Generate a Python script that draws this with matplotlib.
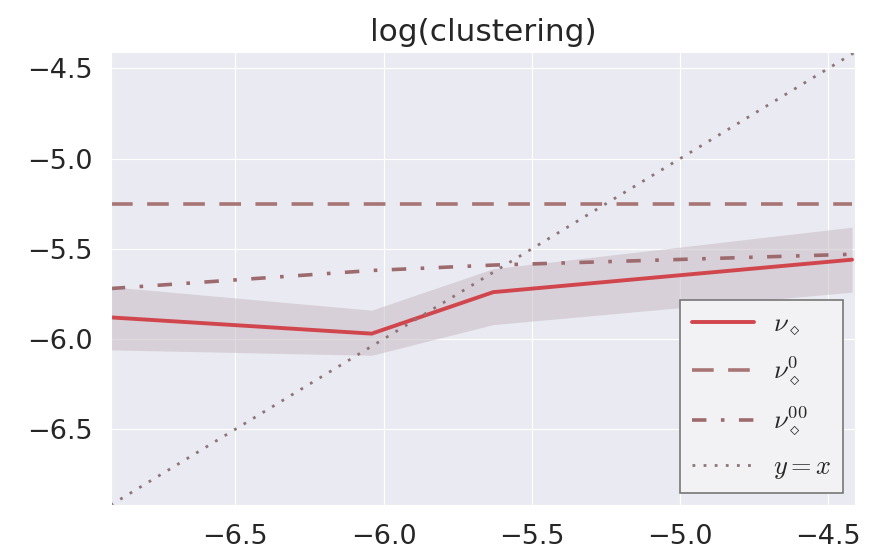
import matplotlib
matplotlib.use("Agg")
import matplotlib.pyplot as plt
import seaborn as sns
import numpy as np

sns.set_style("darkgrid")
plt.rcParams['font.family'] = ['DejaVu Sans']
plt.rcParams['mathtext.fontset'] = 'cm'

x = [-6.92, -6.04, -5.63, -4.42]
nu = [-5.88, -5.97, -5.74, -5.56]
nu_low = [-6.06, -6.09, -5.92, -5.74]
nu_high = [-5.71, -5.84, -5.61, -5.38]
nu0 = [-5.25, -5.25, -5.25, -5.25]
nu00 = [-5.72, -5.62, -5.59, -5.53]
lims = [-6.92, -4.41]
xticks = [-6.5, -6.0, -5.5, -5.0, -4.5]
yticks = [-6.5, -6.0, -5.5, -5.0, -4.5]

fig = plt.figure(figsize=(8.72, 5.55), dpi=100)
ax = fig.add_axes([0.127, 0.090, 0.8535, 0.816])

ax.fill_between(x, nu_low, nu_high, color='#c8bcc4', alpha=0.55, linewidth=0)
l1, = ax.plot(x, nu, color='#d1464d', lw=2.8, label=r'$\nu_\diamond$')
l2, = ax.plot(x, nu0, color='#a87575', lw=2.6, dashes=(6, 4), label=r'$\nu_\diamond^0$')
l3, = ax.plot(x, nu00, color='#9d6b6e', lw=2.6, dashes=(4, 4, 1, 4), label=r'$\nu_\diamond^{00}$')
l4, = ax.plot(lims, lims, color='#8e7478', lw=2, dashes=(1, 3), label=r'$y=x$')

ax.set_xlim(lims)
ax.set_ylim(lims)
ax.set_xticks(xticks)
ax.set_yticks(yticks)
ax.tick_params(labelsize=19.5, colors='#262626', length=0)
ax.tick_params(axis='x', pad=14)
ax.tick_params(axis='y', pad=13)
ax.set_title('log(clustering)', fontsize=22.5, color='#262626', pad=8)
for lab in ax.get_xticklabels() + ax.get_yticklabels():
    lab.set_color('#262626')

leg = ax.legend(loc='lower right', fontsize=19, frameon=True, fancybox=False,
                handlelength=2.35, labelspacing=0.62, borderpad=0.45,
                handletextpad=0.7, bbox_to_anchor=(0.984, 0.027), borderaxespad=0)
leg.get_frame().set_facecolor('#f2f2f5')
leg.get_frame().set_edgecolor('#777777')
leg.get_frame().set_linewidth(1.2)
leg.get_frame().set_alpha(1)

fig.savefig('out.png', dpi=100)
